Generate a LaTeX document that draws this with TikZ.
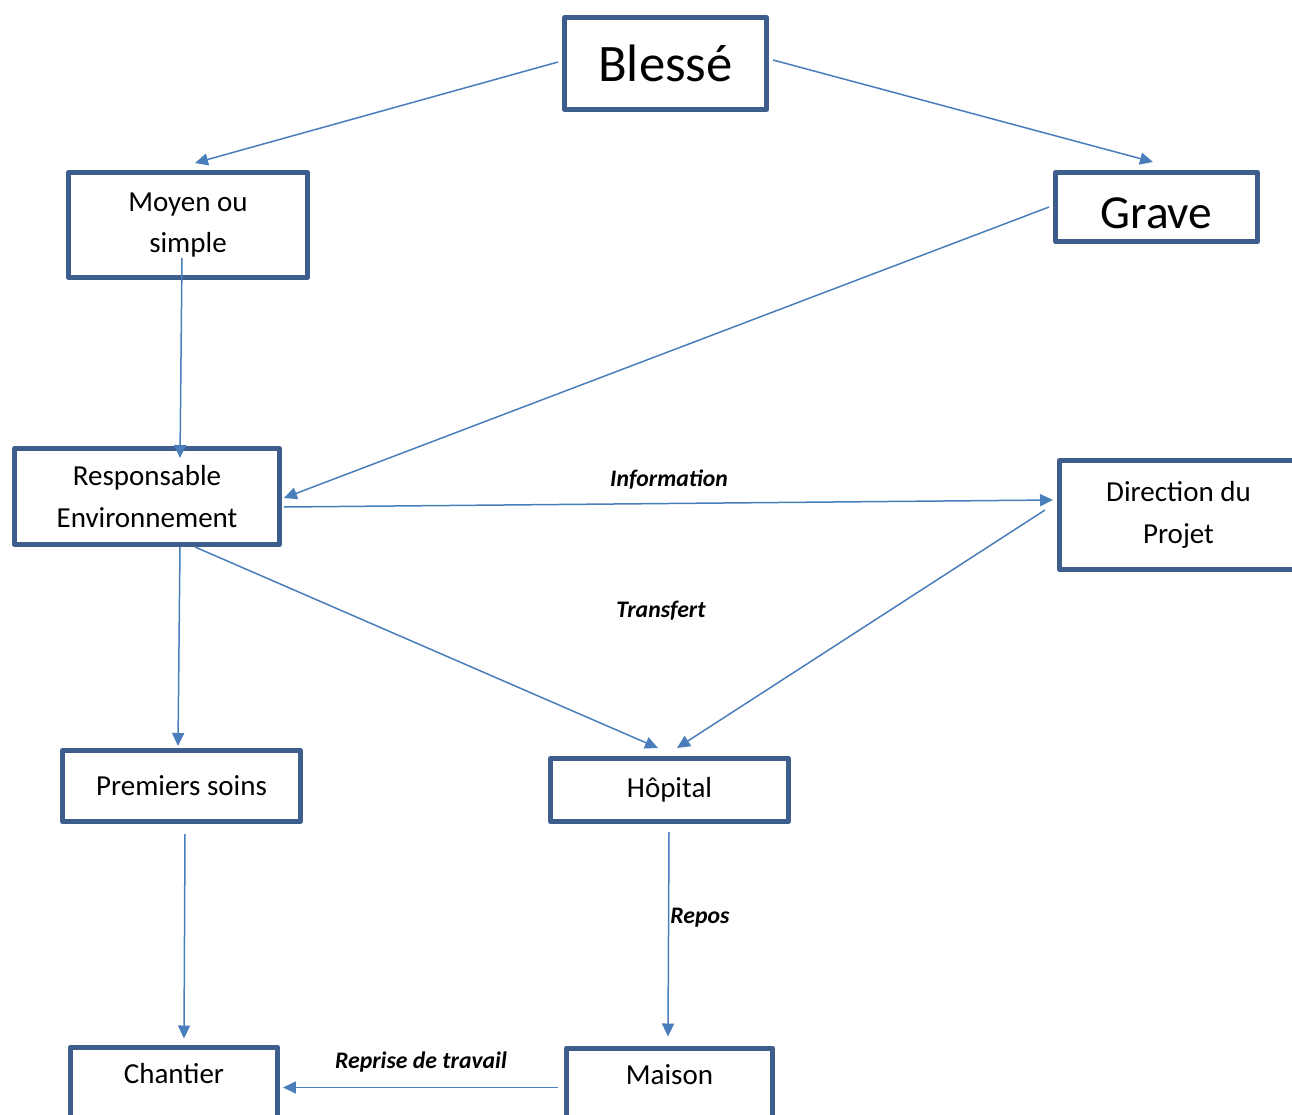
\documentclass[tikz,border=0pt]{standalone}
\usepackage{fontspec}
\setmainfont{Carlito}
\usepackage{xcolor}
\usepackage{tikz}
\usetikzlibrary{arrows.meta,calc}

\definecolor{boxblue}{RGB}{61,94,140}
\definecolor{lineblue}{RGB}{74,126,187}

\begin{document}
\begin{tikzpicture}[
    x=0.02cm, y=-0.02cm,
    block/.style={rectangle, draw=boxblue, line width=0.1cm, line join=round, fill=white, align=center, inner sep=0pt, font=\fontsize{16.5}{23.8}\selectfont},
    line/.style={draw=lineblue, line width=0.03cm, -{Triangle[length=0.26cm,width=0.24cm]}},
    lbl/.style={font=\fontsize{13.5}{16}\selectfont\bfseries\itshape, inner sep=0pt}
]
\useasboundingbox (0,0) rectangle (1292,1115);
\clip (0,0) rectangle (1292,1115);

% Blesse
\node [block, minimum width=4.04cm, minimum height=1.84cm, font=\fontsize{30}{36}\selectfont] (blesse) at (665.5,63.5) {Blessé};

% Moyen ou simple
\node [block, minimum width=4.78cm, minimum height=2.1cm] (moyen) at (188,225) {Moyen ou\\simple};

% Grave
\node [block, minimum width=4.04cm, minimum height=1.38cm, font=\fontsize{27}{32}\selectfont] (grave) at (1156.5,207) {\raisebox{-0.44cm}[0pt][0pt]{Grave}};

% Responsable Environnement
\node [block, minimum width=5.3cm, minimum height=1.92cm] (resp) at (147,496.5) {Responsable\\Environnement};

% Direction du Projet
\node [block, minimum width=4.76cm, minimum height=2.18cm] (direction) at (1178.5,515) {Direction du\\Projet};

% Premiers soins
\node [block, minimum width=4.76cm, minimum height=1.42cm] (premiers) at (181.5,786) {Premiers soins};

% Hopital
\node [block, minimum width=4.76cm, minimum height=1.26cm] (hopital) at (669.5,790) {Hôpital};

% Chantier
\node [block, anchor=north, minimum width=4.14cm, inner ysep=6pt, text height=15pt, text depth=36pt] (chantier) at (174,1044.5) {Chantier};

% Maison
\node [block, anchor=north, minimum width=4.12cm, inner ysep=6pt, text height=15pt, text depth=36pt] (maison) at (669.5,1045.5) {Maison};

% Labels
\node [lbl] (info) at (669,480) {Information};
\node [lbl] (transfert) at (661,611) {Transfert};
\node [lbl, anchor=west] (repos) at (670,918) {Repos};
\node [lbl] (reprise) at (421,1062) {Reprise de travail};

% Connections
\path [line] ($(blesse.west)+(-4,-1.5)$) -- ($(moyen.north)+(7,-7)$);
\path [line] ($(blesse.east)+(4,-3.5)$) -- ($(grave.north)+(-3.5,-8)$);
\path [line] ($(moyen.center)+(-6,33)$) -- ($(resp.north)+(33,12)$);
\path [line] ($(grave.west)+(-4,0)$) -- ($(resp.east)+(2,1.5)$);
\path [line] ($(resp.east)+(2,10.5)$) -- ($(direction.west)+(-4,-15)$);
\path [line] ($(direction.west)+(-12,-5)$) -- ($(hopital.north)+(7.5,-8)$);
\path [line] ($(resp.south)+(48,0)$) -- ($(hopital.north)+(-11.5,-8)$);
\path [line] ($(resp.south)+(33,0)$) -- ($(premiers.north)+(-3.5,-2)$);
\path [line] ($(premiers.south)+(3.5,10)$) -- ($(chantier.north)+(10,-6)$);
\path [line] ($(hopital.south)+(-0.5,8)$) -- ($(maison.north)+(-1.5,-9)$);
\path [line] ($(maison.north west)+(-6,42)$) -- ($(chantier.north east)+(3,43)$);

\end{tikzpicture}
\end{document}
